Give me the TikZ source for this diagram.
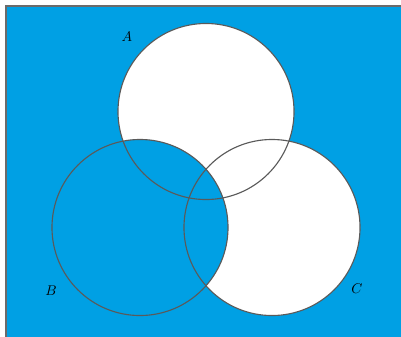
\documentclass[tikz,border=0pt]{standalone}
\usepackage{tikz}
\definecolor{setblue}{HTML}{00A0E4}
\definecolor{edgegray}{HTML}{5A5A5A}

\begin{document}
\begin{tikzpicture}[x=0.025cm, y=-0.025cm]
						\useasboundingbox (0,0) rectangle (401,336);
						\coordinate (ca) at (206,111.5);
						\coordinate (cb) at (140,227.5);
						\coordinate (cc) at (272,227.5);
						% universe, then A and C cleared, then B filled again
						\fill[setblue] (6,6) rectangle (420,360);
						\draw[edgegray!90, line width=0.9pt] (6,360) -- (6,6) -- (420,6);
						\fill[white] (ca) circle[radius=2.2cm] (cc) circle[radius=2.2cm];
						\fill[setblue] (cb) circle[radius=2.2cm];
						\foreach \c in {ca, cb, cc}
						\draw[edgegray, line width=0.8pt] (\c) circle[radius=2.2cm];
						\node (labA) at (127,37) {$A$};
						\node (labB) at (51,291) {$B$};
						\node (labC) at (357,289) {$C$};
					\end{tikzpicture}
\end{document}
